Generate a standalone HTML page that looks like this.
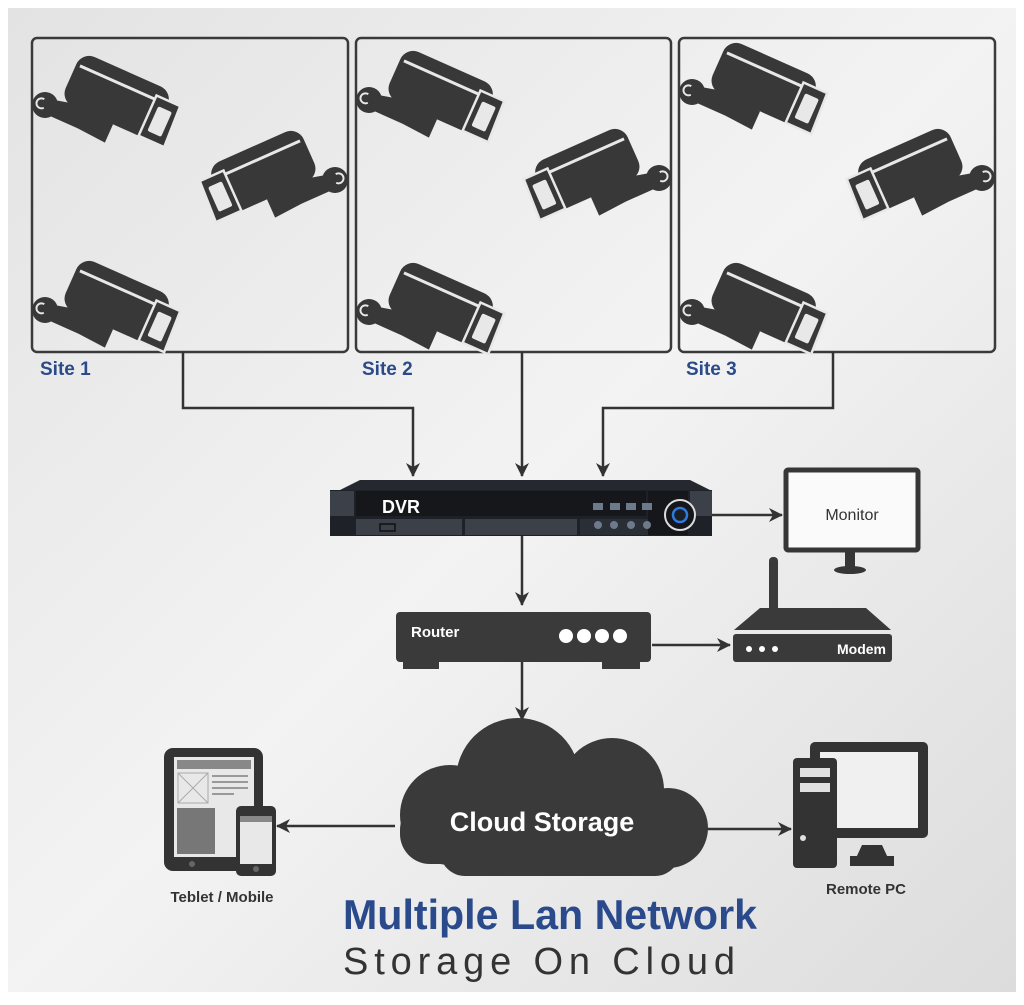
<!DOCTYPE html>
<html><head><meta charset="utf-8"><style>
html,body{margin:0;padding:0;}
body{width:1024px;height:1000px;overflow:hidden;background:#fff;}
text{font-family:"Liberation Sans",sans-serif;}
</style></head><body>
<svg width="1024" height="1000" viewBox="0 0 1024 1000" xmlns="http://www.w3.org/2000/svg">
<defs>
<linearGradient id="bg" x1="0" y1="0" x2="1" y2="1">
<stop offset="0" stop-color="#e3e3e3"/><stop offset="0.5" stop-color="#f3f3f3"/><stop offset="1" stop-color="#dcdcdc"/>
</linearGradient>
<marker id="ar" markerWidth="14" markerHeight="14" refX="13" refY="7" orient="auto" markerUnits="userSpaceOnUse">
<path d="M0,0 L14,7 L0,14 L4,7 Z" fill="#333"/>
</marker>
<g id="cam">
<circle cx="0" cy="0" r="13" fill="#383838"/>
<path d="M-3,-5 a5,5 0 1,0 3,8" fill="none" stroke="#e8e8e8" stroke-width="2"/>
<path d="M5,-8 L30,-14 L70,-10 L70,10 L40,8 L5,8 Z" fill="#383838"/>
<rect x="12" y="-64" width="100" height="54" rx="14" fill="#383838"/>
<line x1="16" y1="-50" x2="122" y2="-50" stroke="#e8e8e8" stroke-width="3"/>
<path d="M98,-54 L124,-54 L126,-10 L98,-10 Z" fill="#383838" stroke="#e8e8e8" stroke-width="2.5"/>
<rect x="104" y="-45" width="15" height="27" rx="2" fill="#e8e8e8"/>
</g>
</defs>
<rect width="1024" height="1000" fill="#fff"/>
<rect x="8" y="8" width="1008" height="984" fill="url(#bg)"/>

<g fill="none" stroke="#3a3a3a" stroke-width="2.5">
<rect x="32" y="38" width="316" height="314" rx="5"/>
<rect x="356" y="38" width="315" height="314" rx="5"/>
<rect x="679" y="38" width="316" height="314" rx="5"/>
</g>
<use href="#cam" transform="translate(45,105) rotate(24)"/>
<use href="#cam" transform="translate(335,180) scale(-1,1) rotate(24)"/>
<use href="#cam" transform="translate(45,310) rotate(24)"/>
<use href="#cam" transform="translate(369,100) rotate(24)"/>
<use href="#cam" transform="translate(659,178) scale(-1,1) rotate(24)"/>
<use href="#cam" transform="translate(369,312) rotate(24)"/>
<use href="#cam" transform="translate(692,92) rotate(24)"/>
<use href="#cam" transform="translate(982,178) scale(-1,1) rotate(24)"/>
<use href="#cam" transform="translate(692,312) rotate(24)"/>

<g font-weight="bold" font-size="19" fill="#2a4a8a">
<text x="40" y="375">Site 1</text>
<text x="362" y="375">Site 2</text>
<text x="686" y="375">Site 3</text>
</g>

<g fill="none" stroke="#333" stroke-width="2.5">
<path d="M183,352 V408 H413 V476" marker-end="url(#ar)"/>
<path d="M522,352 V476" marker-end="url(#ar)"/>
<path d="M833,352 V408 H603 V476" marker-end="url(#ar)"/>
<path d="M712,515 H782" marker-end="url(#ar)"/>
<path d="M522,536 V605" marker-end="url(#ar)"/>
<path d="M652,645 H730" marker-end="url(#ar)"/>
<path d="M522,662 V720" marker-end="url(#ar)"/>
<path d="M395,826 H277" marker-end="url(#ar)"/>
<path d="M706,829 H791" marker-end="url(#ar)"/>
</g>

<polygon points="340,490 360,480 690,480 710,490" fill="#25292f"/>
<rect x="330" y="490" width="382" height="46" fill="#1e2127"/>
<rect x="330" y="491" width="24" height="25" fill="#3b4049"/>
<rect x="356" y="491" width="290" height="25" fill="#15171b"/>
<rect x="356" y="519" width="106" height="16" fill="#3b4049"/>
<rect x="465" y="519" width="112" height="16" fill="#3b4049"/>
<rect x="580" y="519" width="68" height="16" fill="#2a2e35"/>
<rect x="648" y="491" width="40" height="44" fill="#15171b"/>
<rect x="690" y="491" width="22" height="25" fill="#3b4049"/>
<rect x="380" y="524" width="15" height="7" fill="none" stroke="#111" stroke-width="1.5"/>
<text x="382" y="513" font-size="18" font-weight="bold" fill="#fff">DVR</text>
<g fill="#6d7a8c"><rect x="593" y="503" width="10" height="7"/><rect x="610" y="503" width="10" height="7"/><rect x="626" y="503" width="10" height="7"/><rect x="642" y="503" width="10" height="7"/></g>
<g fill="#6d7a8c"><circle cx="598" cy="525" r="4"/><circle cx="614" cy="525" r="4"/><circle cx="631" cy="525" r="4"/><circle cx="647" cy="525" r="4"/></g>
<circle cx="680" cy="515" r="15" fill="#15171b" stroke="#ddd" stroke-width="2"/>
<circle cx="680" cy="515" r="7" fill="#1b1f26" stroke="#2f7ae0" stroke-width="2.5"/>

<rect x="786" y="470" width="132" height="80" fill="#fafafa" stroke="#363636" stroke-width="5" rx="2"/>
<text x="852" y="520" font-size="16" fill="#333" text-anchor="middle">Monitor</text>
<rect x="845" y="552" width="10" height="16" fill="#363636"/>
<ellipse cx="850" cy="570" rx="16" ry="4" fill="#363636"/>

<rect x="396" y="612" width="255" height="50" rx="4" fill="#3a3a3a"/>
<rect x="403" y="660" width="36" height="9" fill="#3a3a3a"/>
<rect x="602" y="660" width="38" height="9" fill="#3a3a3a"/>
<text x="411" y="637" font-size="15" font-weight="bold" fill="#fff">Router</text>
<g fill="#fff"><circle cx="566" cy="636" r="7"/><circle cx="584" cy="636" r="7"/><circle cx="602" cy="636" r="7"/><circle cx="620" cy="636" r="7"/></g>

<rect x="769" y="557" width="9" height="55" rx="4" fill="#3a3a3a"/>
<polygon points="734,630 760,608 866,608 891,630" fill="#3a3a3a"/>
<rect x="733" y="634" width="159" height="28" rx="3" fill="#3a3a3a"/>
<g fill="#fff"><circle cx="749" cy="649" r="3"/><circle cx="762" cy="649" r="3"/><circle cx="775" cy="649" r="3"/></g>
<text x="886" y="654" font-size="14" font-weight="bold" fill="#fff" text-anchor="end">Modem</text>

<g fill="#3a3a3a">
<circle cx="518" cy="780" r="62"/>
<circle cx="612" cy="790" r="52"/>
<circle cx="450" cy="815" r="50"/>
<circle cx="668" cy="828" r="40"/>
<rect x="400" y="800" width="306" height="64" rx="30"/>
<rect x="440" y="820" width="240" height="56" rx="25"/>
</g>
<text x="542" y="831" font-size="27" font-weight="bold" fill="#fff" text-anchor="middle">Cloud Storage</text>

<rect x="164" y="748" width="99" height="123" rx="9" fill="#333"/>
<rect x="174" y="757" width="80" height="100" fill="#e8e8e8"/>
<rect x="177" y="760" width="74" height="9" fill="#888"/>
<rect x="178" y="773" width="30" height="30" fill="none" stroke="#aaa"/>
<path d="M178,773 L208,803 M208,773 L178,803" stroke="#aaa"/>
<g stroke="#999" stroke-width="2"><line x1="212" y1="776" x2="248" y2="776"/><line x1="212" y1="782" x2="248" y2="782"/><line x1="212" y1="788" x2="248" y2="788"/><line x1="212" y1="794" x2="234" y2="794"/></g>
<rect x="177" y="808" width="38" height="46" fill="#777"/>
<circle cx="192" cy="864" r="3" fill="#666"/>
<rect x="236" y="806" width="40" height="70" rx="5" fill="#333"/>
<rect x="240" y="816" width="32" height="48" fill="#e8e8e8"/>
<rect x="240" y="816" width="32" height="6" fill="#888"/>
<circle cx="256" cy="869" r="3" fill="#666"/>
<text x="222" y="902" font-size="15" font-weight="bold" fill="#333" text-anchor="middle">Teblet / Mobile</text>

<rect x="810" y="742" width="118" height="96" rx="5" fill="#333"/>
<rect x="820" y="752" width="98" height="76" fill="#f0f0f0"/>
<polygon points="856,858 862,845 882,845 888,858" fill="#333"/>
<rect x="850" y="856" width="44" height="10" fill="#333"/>
<rect x="793" y="758" width="44" height="110" rx="4" fill="#333"/>
<rect x="800" y="768" width="30" height="9" fill="#e0e0e0"/>
<rect x="800" y="783" width="30" height="9" fill="#e0e0e0"/>
<circle cx="803" cy="838" r="3" fill="#e0e0e0"/>
<text x="866" y="894" font-size="15" font-weight="bold" fill="#333" text-anchor="middle">Remote PC</text>

<text x="343" y="929" font-size="42" font-weight="bold" fill="#2b4a8c" textLength="414" lengthAdjust="spacingAndGlyphs">Multiple Lan Network</text>
<text x="343" y="974" font-size="38" fill="#333" textLength="392" lengthAdjust="spacing">Storage On Cloud</text>
</svg>
</body></html>
